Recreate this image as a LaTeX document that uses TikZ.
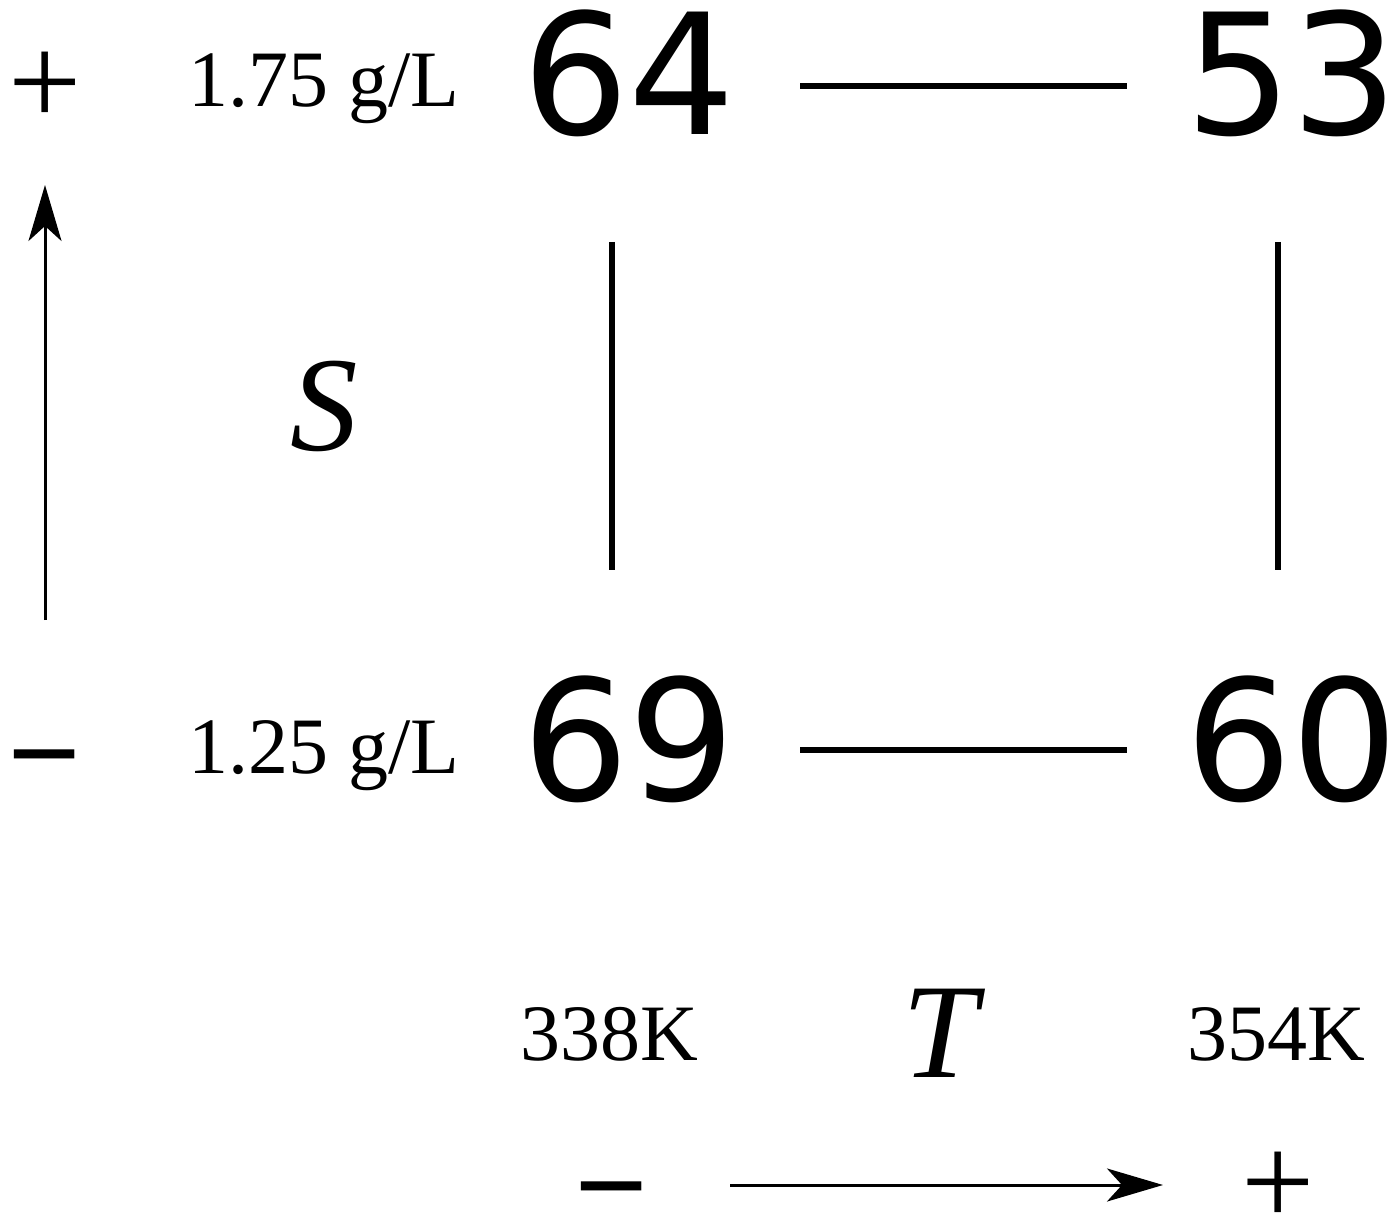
\documentclass[tikz,border=0pt]{standalone}
\usepackage{fontspec}
\setmainfont{Liberation Serif}
\newfontfamily\numfont{DejaVu Sans}
\usetikzlibrary{arrows.meta, positioning}

\begin{document}
\begin{tikzpicture}[x=1pt, y=-1pt,
    value/.style={inner sep=0pt, anchor=base, font=\numfont\fontsize{168}{168}\selectfont},
    tag/.style={inner sep=0pt, anchor=base, font=\fontsize{80}{80}\selectfont},
    factor/.style={inner sep=0pt, anchor=base, font=\itshape\fontsize{135}{135}\selectfont},
    sign/.style={inner sep=0pt, font=\fontsize{130}{130}\selectfont},
    link/.style={line width=6pt},
    axis/.style={-{Stealth[length=56pt, width=33pt, inset=15pt]}, line width=3pt}
]
\useasboundingbox (0,0) rectangle (1398,1230);

\node[value] (v64) at (629,135) {64};
\node[value] (v53) at (1292,135) {53};
\node[value] (v69) at (629,800) {69};
\node[value] (v60) at (1292,800) {60};

\draw[link, shorten <=64pt, shorten >=58pt] ([yshift=49pt]v64.base east) -- ([yshift=49pt]v53.base west);
\draw[link, shorten <=64pt, shorten >=58pt] ([yshift=50pt]v69.base east) -- ([yshift=50pt]v60.base west);
\draw[link] ([xshift=-17pt, yshift=-107pt]v64.base) -- ([xshift=-17pt, yshift=230pt]v69.base);
\draw[link] ([xshift=-14pt, yshift=-107pt]v53.base) -- ([xshift=-14pt, yshift=230pt]v60.base);

% concentration axis
\node[sign] (pS) at (45,89) {+};
\node[sign, font=\bfseries\fontsize{130}{130}\selectfont] (mS) at (45,774) {−};
\node[tag] (s175) at (324,107) {1.75 g/L};
\node[tag] (s125) at (324,773) {1.25 g/L};
\node[factor] (S) at (324,450) {S};
\draw[axis] ([yshift=154pt]mS.center) -- ([yshift=-96pt]pS.center);

% temperature axis
\node[tag] (t338) at (609,1060) {338K};
\node[tag] (t354) at (1276,1060) {354K};
\node[factor] (T) at (940,1077) {T};
\node[sign, font=\bfseries\fontsize{130}{130}\selectfont] (mT) at (612,1206) {−};
\node[sign] (pT) at (1278,1189) {+};
\draw[axis] ([xshift=118pt, yshift=21pt]mT.center) -- ([xshift=-115pt, yshift=4pt]pT.center);

\end{tikzpicture}
\end{document}
